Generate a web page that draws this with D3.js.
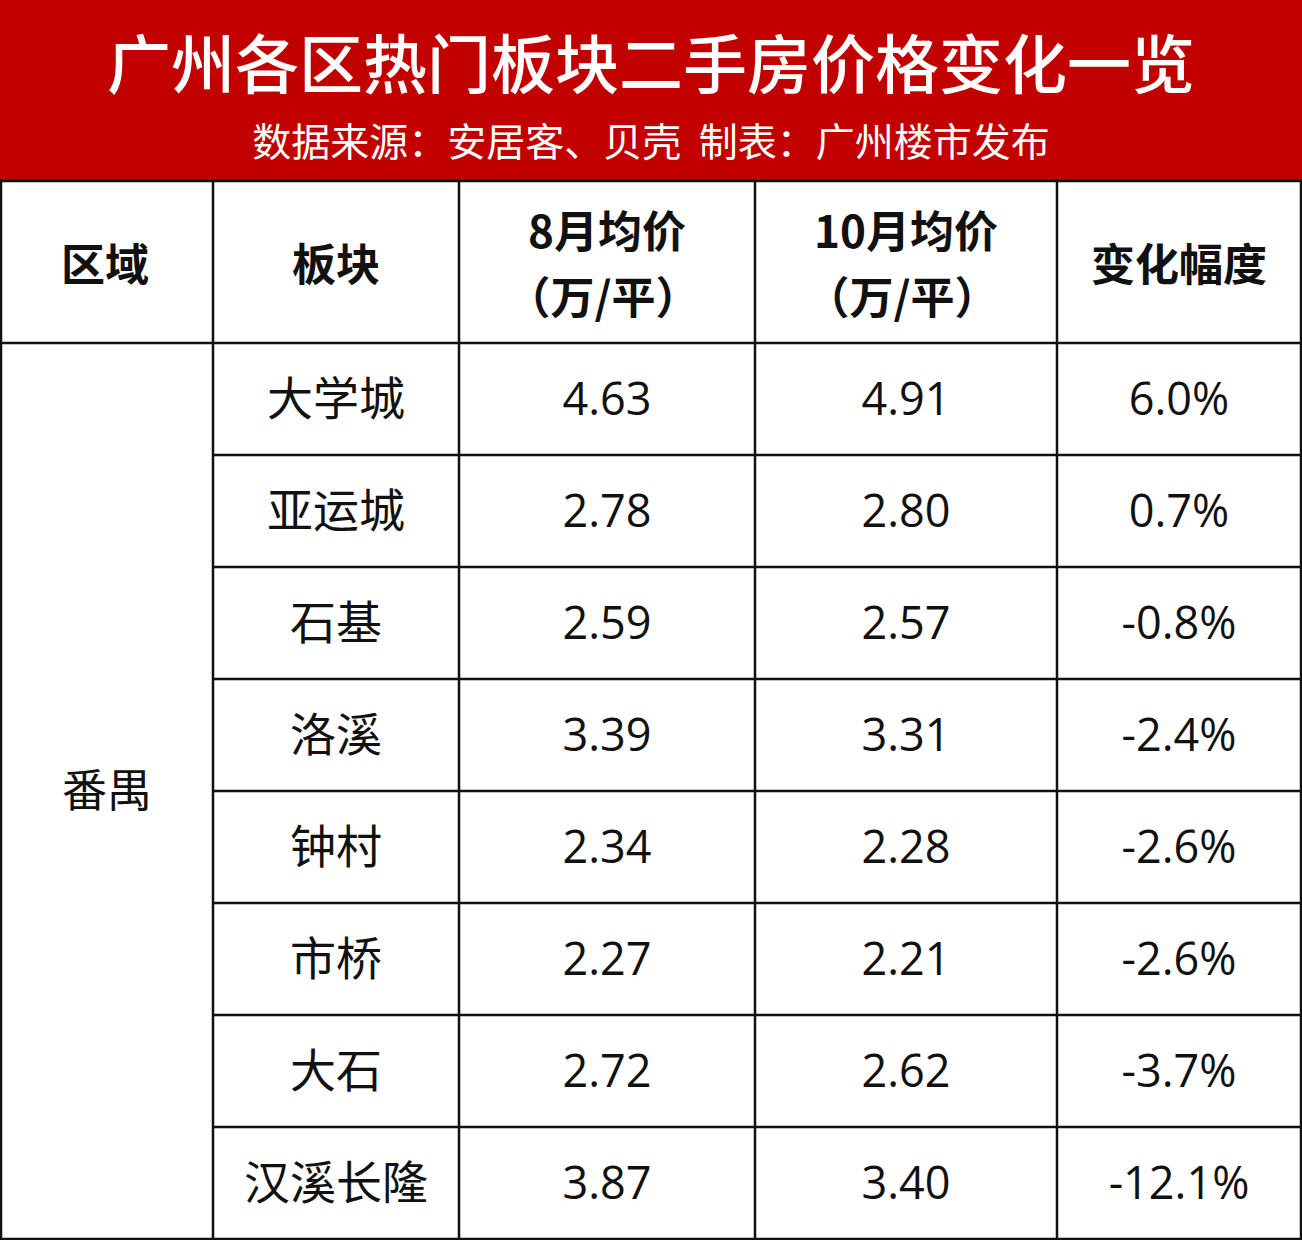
<!DOCTYPE html><html><head><meta charset="utf-8">
<script src="https://cdn.jsdelivr.net/npm/d3@7"></script>
<style>body{margin:0;background:#fff}svg{display:block}</style></head><body>
<script>
const title="广州各区热门板块二手房价格变化一览";
const subtitle="数据来源：安居客、贝壳  制表：广州楼市发布";
const headers=[["区域"],["板块"],["8月均价","（万/平）"],["10月均价","（万/平）"],["变化幅度"]];
const district="番禺";
const blocks=["大学城","亚运城","石基","洛溪","钟村","市桥","大石","汉溪长隆"];
const aug=["4.63","2.78","2.59","3.39","2.34","2.27","2.72","3.87"];
const oct=["4.91","2.80","2.57","3.31","2.28","2.21","2.62","3.40"];
const change=["6.0%","0.7%","-0.8%","-2.4%","-2.6%","-2.6%","-3.7%","-12.1%"];

const W=1302,H=1240;
const svg=d3.select("body").append("svg").attr("width",W).attr("height",H);
const font="'Noto Sans CJK SC','Noto Sans',sans-serif";
svg.append("rect").attr("width",W).attr("height",181).attr("fill","#c20000");
svg.append("text").attr("x",651).attr("y",88).attr("text-anchor","middle").attr("fill","#fff")
 .attr("font-family",font).attr("font-size",64).attr("font-weight",500).text(title);
svg.append("text").attr("x",651).attr("y",156).attr("text-anchor","middle").attr("fill","#fff")
 .attr("font-family",font).attr("font-size",39).style("white-space","pre").text(subtitle);

const colX=[1,213,459,755,1057,1301];
const rowY=d3.scaleLinear().domain([0,8]).range([343,1239]);
const g=svg.append("g").attr("stroke","#111").attr("stroke-width",2.5);
colX.forEach((x,i)=>g.append("line").attr("x1",x).attr("x2",x).attr("y1",181).attr("y2",H));
g.append("line").attr("x1",0).attr("x2",W).attr("y1",181).attr("y2",181);
g.append("line").attr("x1",0).attr("x2",W).attr("y1",343).attr("y2",343);
d3.range(1,8).forEach(i=>g.append("line").attr("x1",213).attr("x2",W).attr("y1",rowY(i)).attr("y2",rowY(i)));
g.append("line").attr("x1",0).attr("x2",W).attr("y1",1239).attr("y2",1239);

const cx=i=>(colX[i]+colX[i+1])/2;
headers.forEach((h,i)=>{
  const t=svg.append("text").attr("x",cx(i)+(i==0?-2:0)).attr("text-anchor","middle").attr("font-family",font)
   .attr("font-size",44).attr("font-weight",700).attr("fill","#111");
  if(h.length==1){t.attr("y",281).text(h[0]);}
  else{t.append("tspan").attr("x",cx(i)).attr("y",248).text(h[0]);
       t.append("tspan").attr("x",cx(i)-4).attr("y",314).text(h[1]);}
});
svg.append("text").attr("x",cx(0)).attr("y",(343+1239)/2+16).attr("text-anchor","middle")
 .attr("font-family",font).attr("font-size",45).attr("fill","#111").text(district);
const cols=[blocks,aug,oct,change];
cols.forEach((arr,c)=>arr.forEach((v,r)=>{
  svg.append("text").attr("x",cx(c+1)).attr("y",rowY(r+0.5)+16).attr("text-anchor","middle")
   .attr("font-family",c==0?font:"'Open Sans',sans-serif").attr("font-size",c==0?46:45).attr("fill","#111").text(v);
}));
</script></body></html>
